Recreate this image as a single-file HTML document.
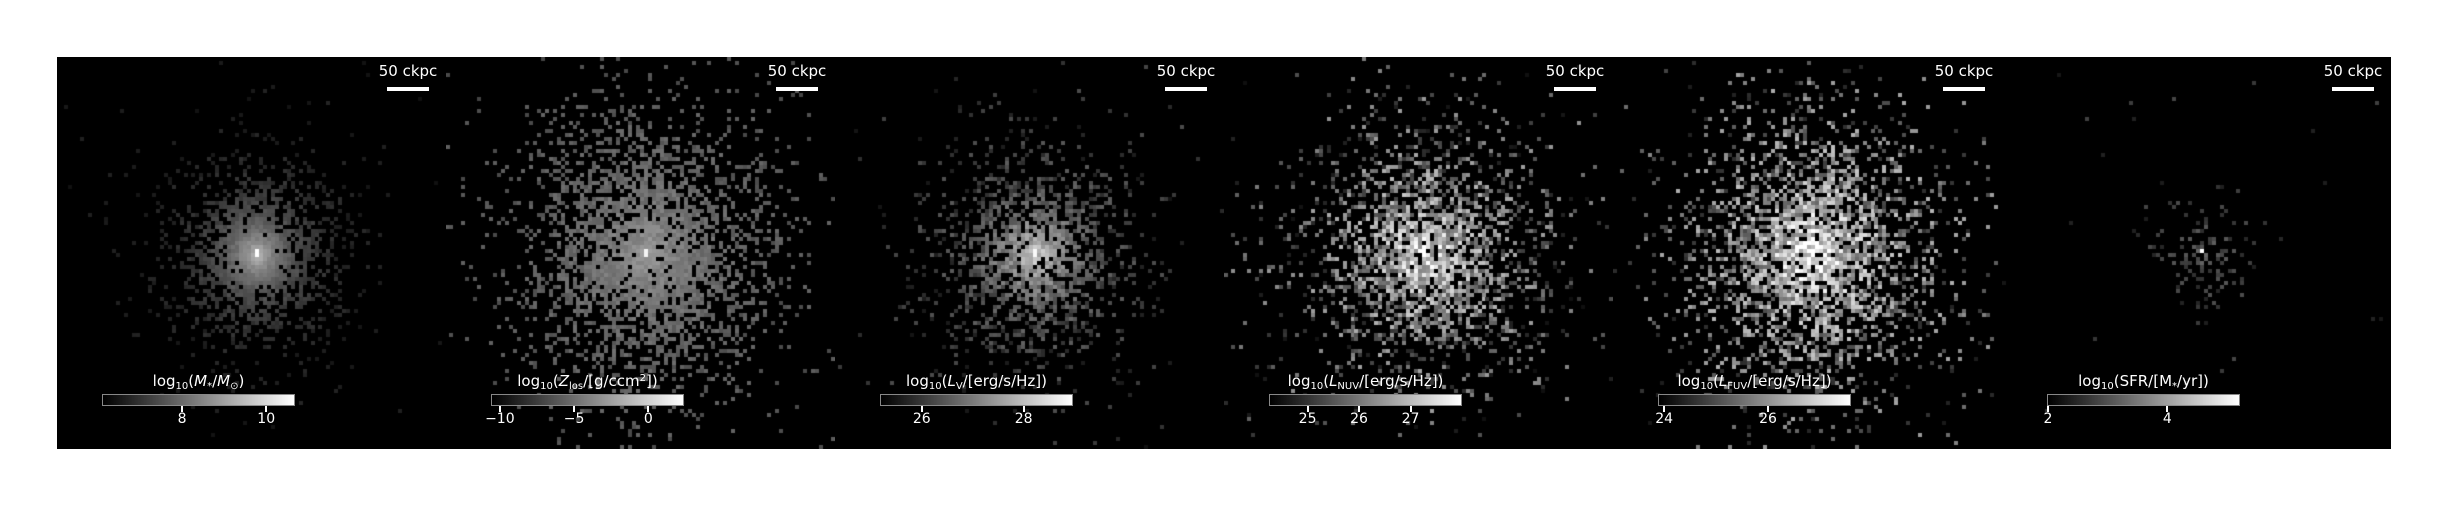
<!DOCTYPE html>
<html><head><meta charset="utf-8">
<style>
html,body{margin:0;padding:0;background:#fff;}
body{width:2444px;height:507px;position:relative;overflow:hidden;font-family:"DejaVu Sans","Liberation Sans",sans-serif;}
.panel{position:absolute;top:57px;width:389px;height:392px;background:#000;overflow:hidden;}
.panel canvas{position:absolute;left:0;top:0;}
.sb-text{position:absolute;left:306px;width:90px;top:5px;text-align:center;color:#fff;font-size:15px;}
.sb-bar{position:absolute;left:330px;width:42px;top:30px;height:4px;background:#fff;}
.cb-label{position:absolute;left:0;width:283px;top:315px;text-align:center;color:#fff;font-size:15px;white-space:nowrap;}
.cb{position:absolute;left:45px;width:191px;top:337px;height:10px;border:1px solid #888;background:linear-gradient(to right,#000,#fff);}
.tick{position:absolute;top:349px;width:2px;height:6px;background:#fff;}
.tl{position:absolute;top:354px;width:60px;text-align:center;color:#fff;font-size:14px;}
sub{font-size:10px;vertical-align:-3px;}
sup{font-size:10px;vertical-align:5px;}
</style></head><body>
<div id="root"></div>
<script>
const panelLabels=[
 'log<sub>10</sub>(<i>M</i><sub>*</sub>/<i>M</i><sub>⊙</sub>)',
 'log<sub>10</sub>(<i>Z</i><sub>los</sub>/[g/ccm<sup>2</sup>])',
 'log<sub>10</sub>(<i>L</i><sub>V</sub>/[erg/s/Hz])',
 'log<sub>10</sub>(<i>L</i><sub>NUV</sub>/[erg/s/Hz])',
 'log<sub>10</sub>(<i>L</i><sub>FUV</sub>/[erg/s/Hz])',
 'log<sub>10</sub>(SFR/[M<sub>*</sub>/yr])'];
const panelNames=['stellar-mass','metallicity','v-band-luminosity','nuv-luminosity','fuv-luminosity','star-formation-rate'];
const cbMin=[6.12,-10.53,25.2,24.27,23.9,2.0];
const cbMax=[10.66,2.33,28.95,27.98,27.58,5.2];
const cbTicks=[[8,10],[-10,-5,0],[26,28],[25,26,27],[24,26],[2,4]];
const cbTickLabels=[['8','10'],['−10','−5','0'],['26','28'],['25','26','27'],['24','26'],['2','4']];
// image appearance per panel (in cells of a 98x98 grid)
const occCore=[1.0,0.9,0.85,0.85,0.88,0.35];
const occRad=[17,25,19,23,25,10];
const occBg=[0.01,0.015,0.015,0.02,0.02,0.004];
const baseGray=[25,80,45,70,85,45];
const coreAmp=[160,75,160,150,150,40];
const coreScale=[9,16,10,16,18,9];
const jitter=[20,30,60,140,140,50];
const peakGray=[255,245,250,255,255,255];
const seeds=[11,22,33,44,55,66];
const root=document.getElementById('root');
function rng(a){return function(){a|=0;a=a+0x6D2B79F5|0;let t=Math.imul(a^a>>>15,1|a);t=t+Math.imul(t^t>>>7,61|t)^t;return((t^t>>>14)>>>0)/4294967296;}}
const W=389,H=392,N=98,CX=50,CY=49;
for(let i=0;i<6;i++){
 const p=document.createElement('div');
 p.className='panel';p.style.left=(57+i*389)+'px';
 
 
 const c=document.createElement('canvas');c.width=W;c.height=H;
 
 
 p.appendChild(c);
 const ctx=c.getContext('2d');const R=rng(seeds[i]);
 const cw=W/N,ch=H/N;
 for(let y=0;y<N;y++)for(let x=0;x<N;x++){
  const dx=(x-CX),dy=(y-CY)/1.1;const r=Math.sqrt(dx*dx+dy*dy);
  const occ=occCore[i]*Math.exp(-Math.pow(r/occRad[i],2))+occBg[i]*(r<40?1:0.3);
  if(R()>occ)continue;
  let v=baseGray[i]+coreAmp[i]*Math.exp(-r/coreScale[i])+jitter[i]*(R()-0.5);
  if((x===CX&&(y===CY||y===CY-1)))v=peakGray[i];
  v=Math.max(15,Math.min(255,v|0));
  ctx.fillStyle='rgb('+v+','+v+','+v+')';
  ctx.fillRect(Math.floor(x*cw),Math.floor(y*ch),Math.ceil(cw),Math.ceil(ch));
 }
 const st=document.createElement('div');st.className='sb-text';st.textContent='50 ckpc';
 
 
 p.appendChild(st);
 const sb=document.createElement('div');sb.className='sb-bar';
 
 
 p.appendChild(sb);
 const lab=document.createElement('div');lab.className='cb-label';lab.innerHTML=panelLabels[i];
 
 
 p.appendChild(lab);
 const cb=document.createElement('div');cb.className='cb';
 
 
 p.appendChild(cb);
 const sx=v=>46+(v-cbMin[i])/(cbMax[i]-cbMin[i])*191;
 cbTicks[i].forEach((t,k)=>{
  const tk=document.createElement('div');tk.className='tick';tk.style.left=(sx(t)-1)+'px';
  
  
  p.appendChild(tk);
  const tl=document.createElement('div');tl.className='tl';tl.style.left=(sx(t)-30)+'px';tl.textContent=cbTickLabels[i][k];
  
  
  p.appendChild(tl);
 });
 root.appendChild(p);
}
</script>
</body></html>
